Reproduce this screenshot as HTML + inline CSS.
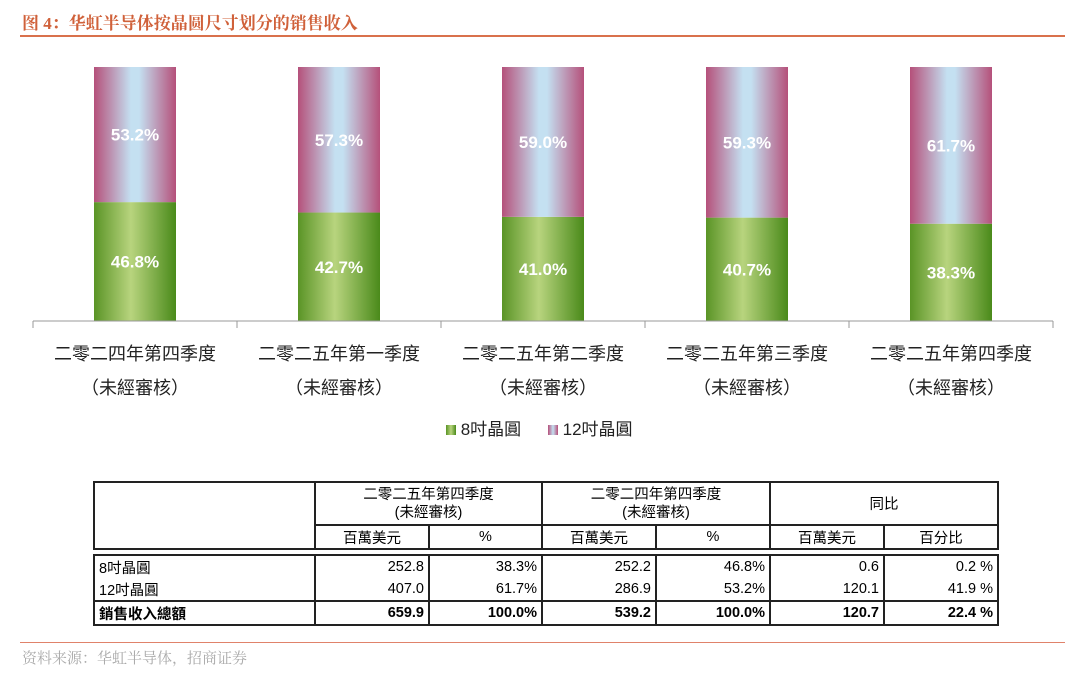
<!DOCTYPE html>
<html><head><meta charset="utf-8"><style>
body{margin:0;width:1080px;height:676px;background:#fff;position:relative;overflow:hidden;font-family:"Liberation Sans","Noto Sans CJK SC",sans-serif}
.abs{position:absolute}
table{border-collapse:collapse;font-size:14.5px;color:#000;table-layout:fixed}
td{border:2px solid #222;padding:0 4px;height:22px;overflow:hidden;white-space:nowrap}
</style></head><body>
<div class="abs" style="left:22px;top:9px;font-size:17px;color:#d0613a;font-weight:bold;font-family:'Liberation Serif','Noto Serif CJK SC',serif">图 4：华虹半导体按晶圆尺寸划分的销售收入</div>
<div class="abs" style="left:20px;top:35px;width:1045px;height:2px;background:#d9714c"></div>
<svg class="abs" style="left:0;top:0" width="1080" height="460">
<defs>
<linearGradient id="gg" x1="0" x2="1"><stop offset="0" stop-color="#5a9426"/><stop offset="0.45" stop-color="#b8d47e"/><stop offset="1" stop-color="#4a8a1a"/></linearGradient>
<linearGradient id="pg" x1="0" x2="1"><stop offset="0" stop-color="#b5507a"/><stop offset="0.45" stop-color="#c4e0f1"/><stop offset="0.55" stop-color="#c4e0f1"/><stop offset="1" stop-color="#b5507a"/></linearGradient>
</defs>
<g id="plot"></g>
</svg>
<div class="abs" style="left:446px;top:415px;font-size:17px;color:#222">
<span style="display:inline-block;width:10px;height:10px;background:linear-gradient(90deg,#5a9426,#b8d47e,#4a8a1a)"></span> 8吋晶圓
<span style="display:inline-block;width:10px;height:10px;margin-left:22px;background:linear-gradient(90deg,#b5507a,#c4e0f1,#b5507a)"></span> 12吋晶圓
</div>
<table class="abs" style="left:93px;top:481px;width:904px">
<colgroup><col style="width:221px"><col style="width:114px"><col style="width:113px"><col style="width:114px"><col style="width:114px"><col style="width:114px"><col style="width:114px"></colgroup>
<tr style="height:43px"><td rowspan="2"></td><td colspan="2" style="text-align:center;line-height:18px">二零二五年第四季度<br>(未經審核)</td><td colspan="2" style="text-align:center;line-height:18px">二零二四年第四季度<br>(未經審核)</td><td colspan="2" style="text-align:center">同比</td></tr>
<tr style="height:23px;text-align:center"><td>百萬美元</td><td>%</td><td>百萬美元</td><td>%</td><td>百萬美元</td><td>百分比</td></tr>
<tr style="height:6px"><td colspan="7" style="border-left:none;border-right:none;height:2px;padding:0"></td></tr>
<tr style="text-align:right"><td style="text-align:left;border-bottom:none">8吋晶圓</td><td style="border-bottom:none">252.8</td><td style="border-bottom:none">38.3%</td><td style="border-bottom:none">252.2</td><td style="border-bottom:none">46.8%</td><td style="border-bottom:none">0.6</td><td style="border-bottom:none">0.2 %</td></tr>
<tr style="text-align:right"><td style="text-align:left;border-top:none">12吋晶圓</td><td style="border-top:none">407.0</td><td style="border-top:none">61.7%</td><td style="border-top:none">286.9</td><td style="border-top:none">53.2%</td><td style="border-top:none">120.1</td><td style="border-top:none">41.9 %</td></tr>
<tr style="text-align:right;font-weight:bold"><td style="text-align:left">銷售收入總額</td><td>659.9</td><td>100.0%</td><td>539.2</td><td>100.0%</td><td>120.7</td><td>22.4 %</td></tr>
</table>
<div class="abs" style="left:20px;top:642px;width:1045px;height:1px;background:#e0826a"></div>
<div class="abs" style="left:22px;top:647px;font-size:15px;color:#aaa;font-family:'Liberation Serif','Noto Serif CJK SC',serif">资料来源：华虹半导体，招商证券</div>
<script>
const categories=["二零二四年第四季度","二零二五年第一季度","二零二五年第二季度","二零二五年第三季度","二零二五年第四季度"];
const share8=[46.8,42.7,41.0,40.7,38.3];
const share12=[53.2,57.3,59.0,59.3,61.7];
const NS="http://www.w3.org/2000/svg";
const g=document.getElementById('plot');
const x0=33,x1=1053,yb=321,yt=67,bw=82;
const step=(x1-x0)/categories.length;
const y=v=>yb-v/100*(yb-yt);
function mk(t,a){const e=document.createElementNS(NS,t);for(const k in a)e.setAttribute(k,a[k]);g.appendChild(e);return e;}
categories.forEach((c,i)=>{
 const cx=x0+step*(i+0.5),bx=cx-bw/2;
 const r1=mk('rect',{x:bx,y:y(share8[i]),width:bw,height:yb-y(share8[i]),fill:'url(#gg)'});
 
 
 const r2=mk('rect',{x:bx,y:y(share8[i]+share12[i]),width:bw,height:y(share8[i])-y(share8[i]+share12[i]),fill:'url(#pg)'});
 
 
 const t1=mk('text',{x:cx,y:(y(share8[i])+yb)/2+6,'text-anchor':'middle','font-size':17,'font-weight':'bold',fill:'#fff'});t1.textContent=share8[i].toFixed(1)+'%';
 
 
 const t2=mk('text',{x:cx,y:(y(share8[i])+y(share8[i]+share12[i]))/2+6,'text-anchor':'middle','font-size':17,'font-weight':'bold',fill:'#fff'});t2.textContent=share12[i].toFixed(1)+'%';
 
 
 const l=mk('text',{x:cx,y:360,'text-anchor':'middle','font-size':18,fill:'#222'});l.textContent=c;
 
 
 const l2=mk('text',{x:cx,y:394,'text-anchor':'middle','font-size':18,fill:'#222'});l2.textContent='（未經審核）';
 
 
});
for(let i=0;i<=categories.length;i++){const tk=mk('line',{x1:x0+step*i,x2:x0+step*i,y1:yb,y2:yb+7,stroke:'#999'});
 
 }
const ax=mk('line',{x1:x0,x2:x1,y1:yb,y2:yb,stroke:'#999'});


</script>
</body></html>
